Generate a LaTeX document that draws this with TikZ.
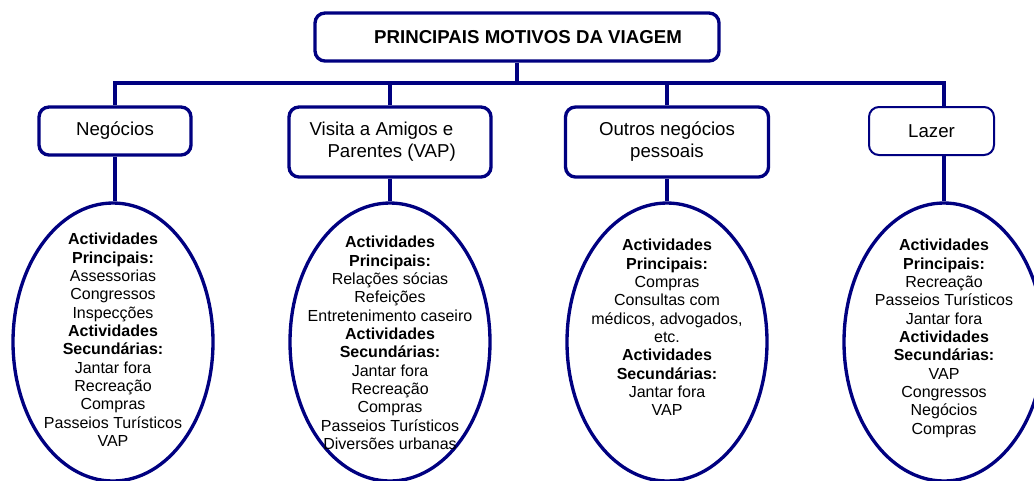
\documentclass[tikz,border=0pt]{standalone}
\usepackage{fontspec}
\setmainfont{Liberation Sans}
\usetikzlibrary{shapes.geometric}
\definecolor{navy}{RGB}{0,0,128}

\begin{document}
\begin{tikzpicture}[x=0.75pt,y=-0.75pt,
   caixa/.style={draw=navy,line width=2.5pt,rounded corners=7.5pt,inner sep=0pt,
                 align=center,font=\fontsize{14}{16.5}\selectfont},
   oval/.style={draw=navy,line width=2.5pt,ellipse,inner sep=0pt,
                minimum width=150pt,minimum height=208.5pt},
   lista/.style={anchor=north,inner sep=0pt,align=center,font=\fontsize{12}{13.75}\selectfont},
   liga/.style={draw=navy,line width=2.5pt}]
         \useasboundingbox (0,0) rectangle (1034,480) ;
         % topo
         \node[caixa,minimum width=303pt,minimum height=36pt] (motivos) at (517,37)
         {\hspace*{16.5pt}\textbf{PRINCIPAIS MOTIVOS DA VIAGEM}} ;
         \coordinate (busneg) at (115,83) ;
         \coordinate (buslaz) at (944,83) ;
         % as quatro caixas
         \node[caixa,minimum width=114pt,minimum height=36pt] (negocios) at (115,131) {Neg\'ocios} ;
         \node[caixa,align=left,minimum width=151.5pt,minimum height=52.5pt] (visita) at (390,142)
         {Visita a Amigos e\\\hspace*{13.5pt}Parentes (VAP)\hspace*{11pt}} ;
         \node[caixa,minimum width=152.25pt,minimum height=52.5pt] (outros) at (667,142)
         {Outros neg\'ocios\\pessoais} ;
         \node[caixa,line width=1.5pt,minimum width=93.75pt,minimum height=36pt] (lazer) at (931.5,131) {Lazer} ;
         % os ovais
         \node[oval] (ovneg) at (113,342) {} ;
         \node[oval] (ovvis) at (390,342) {} ;
         \node[oval] (ovout) at (667,342) {} ;
         \node[oval] (ovlaz) at (944,342) {} ;
         \node[lista] (txneg) at (113,233)
         {\textbf{Actividades}\\\textbf{Principais:}\\Assessorias\\Congressos\\Inspec\c{c}\~oes\\
          \textbf{Actividades}\\\textbf{Secund\'arias:}\\Jantar fora\\Recrea\c{c}\~ao\\Compras\\
          Passeios Tur\'isticos\\VAP} ;
         \node[lista] (txvis) at (390,236)
         {\textbf{Actividades}\\\textbf{Principais:}\\Rela\c{c}\~oes s\'ocias\\Refei\c{c}\~oes\\
          Entretenimento caseiro\\\textbf{Actividades}\\\textbf{Secund\'arias:}\\Jantar fora\\
          Recrea\c{c}\~ao\\Compras\\Passeios Tur\'isticos\\Divers\~oes urbanas} ;
         \node[lista] (txout) at (667,239)
         {\textbf{Actividades}\\\textbf{Principais:}\\Compras\\Consultas com\\
          m\'edicos, advogados,\\etc.\\\textbf{Actividades}\\\textbf{Secund\'arias:}\\Jantar fora\\VAP} ;
         \node[lista] (txlaz) at (944,239)
         {\textbf{Actividades}\\\textbf{Principais:}\\Recrea\c{c}\~ao\\Passeios Tur\'isticos\\Jantar fora\\
          \textbf{Actividades}\\\textbf{Secund\'arias:}\\VAP\\Congressos\\Neg\'ocios\\Compras} ;
         % ligacoes
         \draw[liga] (motivos.south) -- (motivos.south |- busneg) ;
         \draw[liga] (negocios.north) |- (buslaz) -- (buslaz |- lazer.north) ;
         \draw[liga] (visita.north) -- (visita.north |- busneg) ;
         \draw[liga] (outros.north) -- (outros.north |- busneg) ;
         \draw[liga] (negocios.south) -- (ovneg.north -| negocios.south) ;
         \draw[liga] (visita.south) -- (ovvis.north) ;
         \draw[liga] (outros.south) -- (ovout.north) ;
         \draw[liga] (buslaz |- lazer.south) -- (ovlaz.north) ;
       \end{tikzpicture}
\end{document}
